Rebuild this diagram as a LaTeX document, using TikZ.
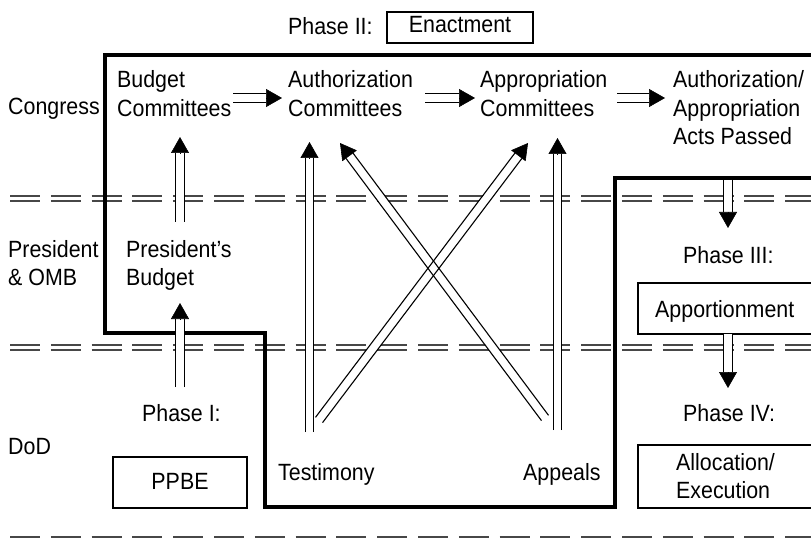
\documentclass[tikz,border=0pt]{standalone}
\usepackage{fontspec}
\setmainfont{Liberation Sans}[FakeStretch=0.91]
\usetikzlibrary{arrows.meta,calc}
\newcommand\mlines[1]{\begin{tabular}[t]{@{}l@{}}#1\end{tabular}}
\begin{document}
\begin{tikzpicture}[x=1pt,y=-1pt,
  txt/.style={anchor=base west, inner sep=0pt, font=\fontsize{23.5}{28.5}\selectfont},
  boxn/.style={draw, line width=2pt, inner sep=0pt, font=\fontsize{23.5}{28.5}\selectfont},
  boxl/.style={line width=2pt},
  sepline/.style={draw=black!72, line width=1.3pt, dash pattern=on 30pt off 10.8pt},
  outline/.style={line width=3.5pt, line join=miter},
  core/.style={white, line width=7.8pt},
  side/.style={line width=1.1pt},
  headtip/.style={line width=0.6pt, -{Triangle[length=16pt,width=18pt]}}]
\useasboundingbox[fill=white] (0,0) rectangle (811,540);

% level separators
\draw[sepline] (10,196) -- (811,196);
\draw[sepline] (10,201) -- (811,201);
\draw[sepline] (10,345) -- (811,345);
\draw[sepline] (10,350) -- (811,350);
\draw[sepline] (10,537) -- (811,537);

% Phase II region outline
\draw[outline] (811,55) -- (105,55) -- (105,333) -- (265,333) -- (265,507)
  -- (615,507) -- (615,178) -- (811,178);

% row labels
\node[txt] (congress) at (8,115) {Congress};
\node[txt] (presomb) at (8,257) {\mlines{President\\\& OMB}};
\node[txt] (dod) at (8,454) {DoD};

% Phase II
\node[txt] (ph2) at (288,35) {Phase II:};
\node[boxn, minimum width=146pt, minimum height=31pt, text height=16pt, text depth=5pt] (enact) at (460,27.5) {Enactment};
\node[txt] (bc) at (117,88) {\mlines{Budget\\Committees}};
\node[txt] (ac) at (288,88) {\mlines{Authorization\\Committees}};
\node[txt] (apc) at (480,88) {\mlines{Appropriation\\Committees}};
\node[txt] (acts) at (673,88) {\mlines{Authorization/\\Appropriation\\Acts Passed}};
\node[txt] (test) at (278,480) {Testimony};
\node[txt] (appeals) at (523,480) {Appeals};

% Phase I
\node[txt] (pb) at (126,257) {\mlines{President’s\\Budget}};
\node[txt] (ph1) at (142,421) {Phase I:};
\node[boxn, minimum width=134pt, minimum height=51pt, text height=17pt, text depth=4pt] (ppbe) at (180,482.5) {PPBE};

% Phase III and IV
\node[txt] (ph3) at (683,263) {Phase III:};
\draw[boxl] (811,283) -- (638,283) -- (638,334) -- (811,334);
\node[txt] (appt) at (655,317) {Apportionment};
\node[txt] (ph4) at (683,421) {Phase IV:};
\draw[boxl] (811,445) -- (638,445) -- (638,508) -- (811,508);
\node[txt] (alloc) at (676,470) {\mlines{Allocation/\\Execution}};

% connector end points
\coordinate (bc-o) at (233,98);   \coordinate (ac-i) at (282,98);
\coordinate (ac-o) at (425,98);   \coordinate (apc-i) at (475,98);
\coordinate (apc-o) at (617,98);  \coordinate (acts-i) at (665,98);
\coordinate (pb-o) at (180,222);  \coordinate (bc-i) at (180,137);
\coordinate (ppbe-o) at (180,387); \coordinate (pb-i) at (180,303);
\coordinate (test-o1) at (309.5,432); \coordinate (ac-i1) at (309.5,142);
\coordinate (test-o2) at (319,420); \coordinate (apc-i2) at (528,143);
\coordinate (app-o1) at (557.5,430); \coordinate (apc-i1) at (557.5,138);
\coordinate (app-o2) at (545,418); \coordinate (ac-i2) at (340,143);
\coordinate (acts-o) at (728,180); \coordinate (ph3-i) at (728,228);
\coordinate (appt-o) at (728,334); \coordinate (ph4-i) at (728,388);

\def\arrowlist{bc-o/ac-i, ac-o/apc-i, apc-o/acts-i, pb-o/bc-i, ppbe-o/pb-i,
  test-o1/ac-i1, test-o2/apc-i2, app-o1/apc-i1, app-o2/ac-i2, acts-o/ph3-i, appt-o/ph4-i}

% hollow shafts: white cores first
\foreach \s/\t in \arrowlist {
  \draw[core] (\s) -- ($(\t)!16pt!(\s)$);
}
% shaft sides and heads
\foreach \s/\t in \arrowlist {
  \coordinate (hb) at ($(\t)!16pt!(\s)$);
  \draw[side] ($(\s)!4.4pt!90:(hb)$) -- ($(hb)!4.4pt!-90:(\s)$);
  \draw[side] ($(\s)!4.4pt!-90:(hb)$) -- ($(hb)!4.4pt!90:(\s)$);
  \draw[headtip] (hb) -- (\t);
}
\end{tikzpicture}
\end{document}
